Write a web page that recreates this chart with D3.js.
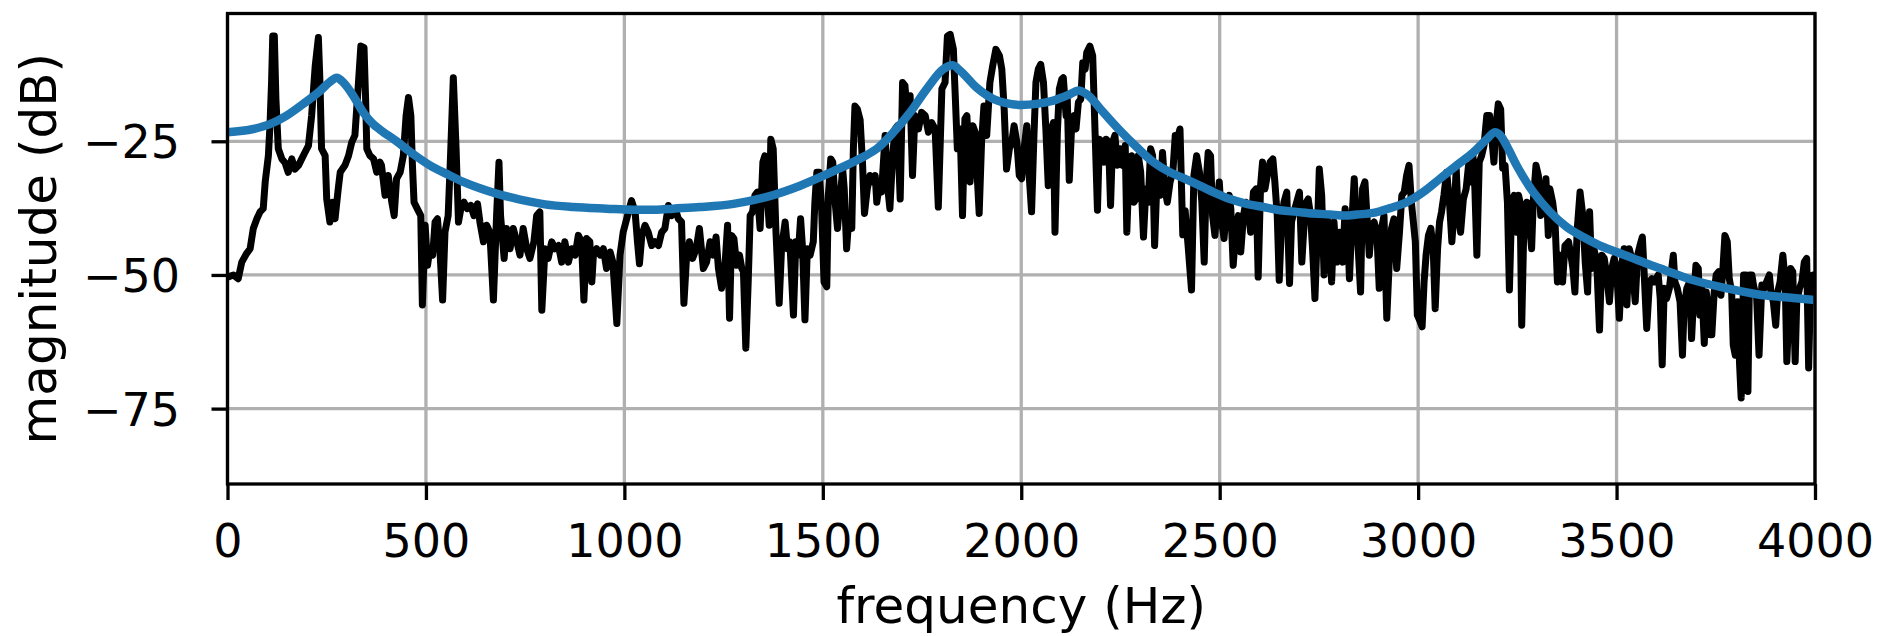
<!DOCTYPE html>
<html><head><meta charset="utf-8">
<script src="https://cdn.jsdelivr.net/npm/d3@7"></script>
<style>
html,body{margin:0;padding:0;background:#fff;}
svg{display:block;}
text{font-family:"DejaVu Sans",sans-serif;}
</style></head>
<body><svg id="chart" width="1885" height="636"></svg>
<script>
// ---- data ----
const xTicks = [0, 500, 1000, 1500, 2000, 2500, 3000, 3500, 4000];
const yTicks = [-25, -50, -75];
const xDomain = [0, 4000];
const yDomain = [-89.1, -1.1];
const xLabel = "frequency (Hz)";
const yLabel = "magnitude (dB)";

// measured spectrum: [frequency Hz, magnitude dB]
const spectrum = [[0,-50.4],[15,-50.0],[27,-50.7],[36,-47.6],[48,-46.0],[57,-45.1],[65,-41.3],[74,-39.5],[82,-38.2],[90,-37.6],[95,-32.6],[103,-27.7],[107,-22.1],[111,-14.0],[114,-5.3],[118,-5.3],[122,-17.1],[128,-26.4],[137,-28.3],[145,-29.0],[153,-30.8],[162,-28.3],[170,-30.2],[179,-29.5],[187,-28.3],[195,-27.1],[204,-25.8],[212,-20.2],[221,-10.9],[229,-5.6],[233,-14.0],[237,-26.4],[246,-27.7],[250,-35.8],[258,-40.1],[265,-36.4],[271,-39.5],[279,-33.9],[284,-30.8],[296,-29.5],[305,-27.7],[313,-25.2],[321,-23.9],[330,-14.0],[336,-7.2],[344,-7.5],[348,-17.1],[351,-26.4],[359,-27.7],[368,-28.3],[376,-30.8],
[384,-28.9],[388,-29.5],[397,-35.1],[405,-31.4],[414,-36.4],[420,-38.9],[426,-32.0],[435,-30.8],[443,-27.7],[450,-20.2],[456,-16.8],[462,-20.2],[466,-29.5],[470,-36.4],[478,-37.6],[487,-38.9],[491,-55.6],[498,-40.7],[504,-48.2],[510,-45.1],[517,-46.3],[523,-40.1],[529,-39.5],[535,-45.1],[542,-54.7],[548,-42.0],[556,-38.9],[562,-27.7],[569,-13.1],[576,-26.4],[582,-40.1],[588,-37.6],[596,-36.4],[604,-37.6],[613,-37.0],[621,-38.9],[630,-36.7],[636,-40.1],[645,-43.8],[653,-40.7],[661,-42.0],[670,-54.7],[678,-38.9],[684,-28.9],[688,-38.9],[697,-46.9],[703,-41.3],[712,-45.1],[720,-41.3],[729,-43.8],[737,-46.3],[745,-41.3],[754,-45.1],[762,-46.9],[772,-43.8],[779,-38.9],[787,-38.2],[792,-56.6],[800,-45.1],
[808,-46.9],[817,-43.8],[825,-45.1],[834,-44.5],[842,-47.6],[850,-43.8],[859,-47.6],[867,-45.1],[876,-46.3],[884,-42.6],[892,-43.8],[898,-54.7],[905,-43.2],[913,-43.8],[918,-51.3],[922,-46.3],[930,-45.1],[939,-46.3],[947,-45.1],[955,-48.8],[964,-45.7],[971,-47.6],[981,-59.1],[989,-46.3],[997,-42.0],[1008,-38.9],[1018,-36.1],[1027,-38.2],[1033,-43.8],[1038,-47.9],[1044,-42.6],[1052,-40.7],[1060,-42.0],[1069,-44.5],[1077,-43.8],[1086,-44.5],[1094,-42.0],[1102,-41.3],[1111,-37.0],[1119,-38.9],[1128,-37.6],[1136,-39.5],[1144,-40.1],[1150,-55.3],[1157,-46.3],[1164,-43.8],[1172,-46.9],[1181,-45.1],[1189,-41.3],
[1199,-48.8],[1207,-47.6],[1216,-43.8],[1224,-46.3],[1231,-42.9],[1237,-48.8],[1245,-52.5],[1254,-47.6],[1260,-40.7],[1265,-58.1],[1270,-42.6],[1276,-43.2],[1283,-48.2],[1290,-46.3],[1296,-48.8],[1300,-49.4],[1306,-63.7],[1312,-51.3],[1317,-38.9],[1323,-38.2],[1329,-35.1],[1335,-34.5],[1342,-41.3],[1349,-28.9],[1354,-27.7],[1359,-33.9],[1365,-40.7],[1369,-24.6],[1375,-26.4],[1382,-42.0],[1390,-55.3],[1396,-45.1],[1405,-40.1],[1411,-45.1],[1417,-43.8],[1426,-57.5],[1432,-43.8],[1438,-46.3],[1444,-39.5],[1449,-45.1],[1455,-58.4],[1461,-45.1],[1468,-46.3],[1476,-43.8],[1480,-36.4],[1485,-30.8],[1491,-30.8],[1497,-37.6],[1503,-51.3],[1510,-52.2],[1514,-35.1],[1520,-28.3],[1525,-28.9],[1531,-36.4],[1537,-41.3],[1543,-36.4],[1550,-30.2],[1554,-33.9],[1560,-45.1],[1566,-38.9],[1573,-41.3],[1577,-26.4],[1581,-18.4],[1587,-19.0],[1594,-21.0],[1600,-29.0],[1605,-38.5],
[1612,-33.9],[1619,-31.4],[1626,-32.6],[1632,-31.4],[1636,-36.4],[1642,-33.3],[1648,-34.5],[1657,-23.9],[1663,-33.3],[1669,-37.6],[1676,-27.7],[1682,-22.7],[1688,-22.1],[1695,-35.8],[1701,-14.0],[1707,-14.6],[1713,-20.2],[1720,-16.5],[1726,-31.4],[1732,-20.2],[1741,-22.7],[1749,-19.6],[1758,-20.2],[1766,-23.3],[1774,-21.5],[1783,-22.7],[1791,-37.3],[1800,-15.2],[1808,-14.0],[1814,-5.3],[1821,-5.0],[1829,-7.8],[1833,-15.2],[1839,-26.4],[1846,-22.7],[1852,-38.9],[1858,-20.8],[1863,-20.2],[1867,-26.4],[1871,-32.6],[1878,-22.1],[1884,-23.3],[1889,-31.4],[1894,-38.5],[1900,-25.2],[1906,-18.4],[1913,-23.9],[1921,-14.0],[1928,-10.9],[1936,-7.8],[1945,-9.0],[1951,-11.5],[1957,-19.0],[1963,-30.2],[1970,-26.4],[1976,-25.2],[1982,-22.1],[1989,-25.2],[1995,-31.4],
[2001,-32.0],[2007,-26.4],[2014,-22.1],[2020,-31.4],[2026,-38.2],[2032,-23.9],[2037,-14.0],[2043,-11.5],[2049,-10.6],[2056,-14.0],[2062,-22.7],[2068,-33.3],[2074,-23.3],[2081,-21.5],[2085,-42.0],[2091,-23.3],[2096,-15.2],[2102,-13.4],[2106,-13.1],[2113,-20.2],[2116,-17.1],[2121,-32.3],[2127,-22.1],[2133,-20.2],[2138,-22.7],[2144,-17.7],[2150,-17.1],[2155,-10.3],[2161,-11.5],[2165,-8.4],[2173,-7.2],[2180,-9.0],[2186,-23.3],[2192,-37.9],[2197,-24.6],[2203,-25.2],[2209,-28.9],[2214,-24.6],[2220,-25.2],[2225,-37.0],[2230,-25.2],[2236,-23.9],[2242,-29.5],[2249,-26.4],[2256,-29.5],[2262,-25.8],[2266,-42.0],[2272,-29.5],[2278,-27.7],[2284,-36.4],[2289,-35.8],[2295,-27.7],[2301,-30.8],[2308,-42.9],[2314,-33.9],[2320,-36.4],[2326,-26.4],[2331,-27.7],[2336,-44.5],[2343,-30.2],[2350,-35.1],[2356,-27.1],[2362,-33.9],[2368,-36.4],[2375,-32.6],[2382,-30.8],[2388,-23.9],[2393,-24.6],[2400,-22.7],[2407,-42.5],[2413,-38.0],
[2421,-45.1],[2429,-52.8],[2435,-31.4],[2442,-27.7],[2449,-30.8],[2455,-36.4],[2461,-47.6],[2466,-32.6],[2471,-27.1],[2477,-27.7],[2482,-38.9],[2488,-42.6],[2494,-36.4],[2499,-32.6],[2505,-40.1],[2511,-43.2],[2518,-36.4],[2524,-35.1],[2528,-37.6],[2534,-48.2],[2541,-41.3],[2547,-38.9],[2553,-45.7],[2560,-38.9],[2566,-36.4],[2572,-37.6],[2578,-42.0],[2585,-34.5],[2592,-33.9],[2597,-50.4],[2603,-33.3],[2608,-28.9],[2614,-33.9],[2620,-31.4],[2627,-28.9],[2634,-28.3],[2639,-32.6],[2645,-38.9],[2650,-51.0],[2656,-40.1],[2662,-36.4],[2669,-34.5],[2676,-51.6],[2681,-40.1],[2687,-38.2],[2694,-36.4],[2701,-34.5],[2707,-47.6],[2713,-40.1],[2718,-36.4],[2723,-35.8],[2729,-38.9],[2734,-45.1],[2740,-54.4],[2746,-42.0],[2751,-30.2],[2757,-35.1],[2763,-50.0],[2770,-38.9],[2776,-42.0],[2782,-51.3],[2788,-40.1],[2795,-47.6],[2802,-42.0],
[2810,-47.6],[2816,-37.6],[2822,-41.3],[2827,-50.7],[2833,-40.1],[2839,-32.0],[2844,-38.9],[2849,-45.1],[2855,-53.2],[2860,-33.9],[2866,-32.6],[2872,-40.1],[2877,-46.3],[2883,-40.7],[2889,-40.1],[2896,-42.0],[2902,-52.5],[2908,-41.3],[2914,-38.9],[2921,-58.1],[2928,-46.3],[2933,-41.3],[2939,-39.5],[2946,-48.8],[2953,-42.0],[2959,-35.1],[2965,-34.5],[2971,-31.4],[2977,-29.5],[2983,-36.4],[2988,-40.1],[2993,-43.8],[2998,-57.5],[3005,-58.7],[3010,-59.7],[3015,-51.3],[3020,-46.3],[3026,-42.6],[3032,-41.3],[3038,-45.1],[3043,-56.3],[3049,-45.1],[3054,-40.1],[3059,-38.2],[3065,-35.1],[3072,-30.8],[3079,-36.4],[3085,-43.8],[3091,-37.6],[3096,-30.2],[3101,-38.9],[3107,-42.0],[3114,-35.8],[3121,-33.9],[3127,-29.5],[3133,-32.6],[3138,-27.7],[3143,-33.9],[3148,-46.3],[3154,-28.9],[3160,-27.7],[3166,-25.8],[3173,-20.2],[3180,-20.2],[3185,-23.9],[3191,-28.9],[3196,-22.1],[3202,-18.0],[3208,-19.0],[3213,-30.0],[3219,-29.5],[3225,-36.4],[3230,-52.8],[3236,-36.4],[3242,-35.1],[3247,-42.0],[3253,-35.1],[3257,-36.4],[3261,-59.4],[3267,-38.9],[3274,-36.4],[3280,-40.1],[3286,-45.1],[3290,-36.4],[3297,-29.5],[3303,-31.4],[3309,-38.9],[3316,-36.4],[3322,-32.0],[3328,-42.6],[3332,-33.9],[3339,-36.4],[3345,-40.1],[3351,-51.3],[3358,-46.3],[3364,-51.3],[3370,-44.5],[3379,-43.8],[3385,-46.3],[3390,-48.8],[3395,-53.2],[3401,-41.3],[3408,-34.5],[3415,-38.9],[3421,-47.6],[3427,-53.2],[3432,-38.2],[3437,-48.8],[3443,-45.1],[3450,-47.6],[3457,-60.3],[3463,-46.3],[3469,-46.9],[3475,-50.0],[3482,-55.0],[3488,-48.8],[3494,-46.9],[3500,-48.8],[3507,-58.1],[3513,-48.2],[3519,-45.1],[3526,-55.6],[3532,-45.1],[3538,-46.9],[3547,-55.0],[3553,-46.3],[3559,-44.5],[3565,-42.9],[3569,-48.8],[3576,-60.0],[3583,-51.3],[3589,-50.7],[3595,-51.3],[3600,-50.7],[3605,-50.0],[3610,-54.4],[3615,-66.8],[3620,-52.5],[3626,-54.4],[3633,-52.5],[3639,-48.8],[3643,-46.3],[3647,-51.3],[3653,-52.5],[3660,-55.0],[3666,-65.0],[3670,-56.3],[3677,-52.5],[3684,-51.3],[3689,-61.9],[3694,-54.4],[3700,-48.2],[3706,-48.8],[3710,-57.5],[3715,-52.5],[3721,-62.8],[3726,-53.2],[3731,-56.3],[3736,-61.2],[3740,-61.2],[3746,-53.2],[3751,-50.0],[3757,-49.4],[3763,-53.8],[3768,-48.8],[3773,-42.6],[3779,-43.8],[3784,-50.7],[3790,-53.2],[3794,-63.1],[3799,-65.0],[3805,-55.0],[3810,-66.8],[3814,-73.0],[3820,-50.0],[3826,-50.0],[3831,-71.8],[3835,-50.0],[3841,-50.0],[3845,-51.9],[3853,-54.4],[3859,-65.0],[3866,-51.9],[3872,-52.5],[3878,-51.3],[3885,-50.0],[3889,-53.2],[3895,-55.0],[3901,-59.4],[3906,-53.2],[3912,-51.3],[3919,-46.3],[3925,-51.3],[3929,-66.2],[3934,-57.5],[3939,-48.8],[3944,-49.4],[3950,-66.2],[3954,-55.0],[3961,-52.5],[3967,-51.3],[3973,-47.6],[3979,-46.9],[3984,-67.4],[3989,-51.3],[3994,-50.0],[4000,-50.0],[4008,-56.0]];

// smooth spectral envelope: [frequency Hz, magnitude dB]
const envelope = [[0,-23.3],[65,-22.7],[107,-21.8],[149,-20.2],[191,-18.0],[233,-15.6],[258,-13.9],[275,-13.1],[292,-14.0],[317,-16.5],[342,-19.6],[367,-21.8],[384,-22.8],[426,-25.0],[468,-27.4],[510,-29.5],[552,-31.1],[594,-32.6],[636,-33.8],[678,-34.8],[720,-35.6],[762,-36.3],[800,-36.8],[871,-37.3],[955,-37.6],[1023,-37.8],[1081,-37.8],[1123,-37.6],[1190,-37.3],[1275,-36.7],[1359,-35.4],[1443,-33.3],[1527,-30.6],[1600,-28.0],[1636,-26.4],[1678,-23.3],[1720,-19.6],[1762,-15.2],[1804,-11.5],[1827,-10.8],[1846,-11.8],[1888,-15.0],[1930,-17.1],[1972,-18.0],[2000,-18.2],[2039,-18.0],[2081,-17.4],[2123,-16.2],[2144,-15.5],[2165,-16.2],[2207,-19.6],[2249,-23.0],[2291,-26.1],[2333,-28.9],[2375,-30.8],[2400,-31.6],[2442,-33.0],[2484,-34.5],[2526,-35.8],[2568,-36.7],[2610,-37.3],[2652,-37.9],[2694,-38.2],[2736,-38.5],[2778,-38.7],[2816,-38.9],[2845,-38.7],[2887,-38.4],[2929,-37.5],[2971,-36.4],[3013,-34.5],[3055,-32.0],[3097,-29.5],[3139,-27.1],[3173,-24.6],[3194,-23.3],[3206,-23.8],[3227,-26.4],[3248,-29.5],[3290,-34.5],[3332,-38.2],[3374,-41.0],[3416,-42.9],[3458,-44.5],[3500,-45.7],[3542,-46.9],[3584,-48.1],[3622,-49.1],[3694,-51.0],[3778,-52.5],[3861,-53.7],[3946,-54.3],[4000,-54.7]];

// ---- layout ----
const plot = {left: 227.5, right: 1815, top: 13.5, bottom: 484};
const tickFont = 46, labelFont = 50, lw = 3.3, tickLen = 16;

const svg = d3.select("#chart");
const x = d3.scaleLinear().domain(xDomain).range([plot.left, plot.right]);
const y = d3.scaleLinear().domain(yDomain).range([plot.bottom, plot.top]);

svg.append("defs").append("clipPath").attr("id", "clip")
  .append("rect").attr("x", plot.left).attr("y", plot.top)
  .attr("width", plot.right - plot.left).attr("height", plot.bottom - plot.top);

// grid
const grid = svg.append("g").attr("stroke", "#b0b0b0").attr("stroke-width", lw);
grid.selectAll("line.vx").data(xTicks).join("line").attr("class", "vx")
  .attr("x1", d => x(d)).attr("x2", d => x(d)).attr("y1", plot.top).attr("y2", plot.bottom);
grid.selectAll("line.hy").data(yTicks).join("line").attr("class", "hy")
  .attr("y1", d => y(d)).attr("y2", d => y(d)).attr("x1", plot.left).attr("x2", plot.right);

// lines
const lines = svg.append("g").attr("clip-path", "url(#clip)");
lines.append("path").datum(spectrum)
  .attr("d", d3.line().x(d => x(d[0])).y(d => y(d[1])))
  .attr("fill", "none").attr("stroke", "#000").attr("stroke-width", 7)
  .attr("stroke-linejoin", "round").attr("stroke-linecap", "butt");
lines.append("path").datum(envelope)
  .attr("d", d3.line().x(d => x(d[0])).y(d => y(d[1])).curve(d3.curveMonotoneX))
  .attr("fill", "none").attr("stroke", "#1f77b4").attr("stroke-width", 8.5)
  .attr("stroke-linejoin", "round");

// axes
const xAxis = svg.append("g").attr("transform", `translate(0,${plot.bottom})`)
  .call(d3.axisBottom(x).tickValues(xTicks).tickSize(tickLen).tickFormat(d3.format("d")));
xAxis.select(".domain").remove();
xAxis.selectAll(".tick line").attr("stroke", "#000").attr("stroke-width", lw);
xAxis.selectAll(".tick text").attr("y", 73).attr("dy", null)
  .attr("font-size", tickFont).attr("fill", "#000").attr("font-family", "DejaVu Sans");

const yAxis = svg.append("g").attr("transform", `translate(${plot.left},0)`)
  .call(d3.axisLeft(y).tickValues(yTicks).tickSize(tickLen).tickFormat(d3.format("d")));
yAxis.select(".domain").remove();
yAxis.selectAll(".tick line").attr("stroke", "#000").attr("stroke-width", lw);
yAxis.selectAll(".tick text").attr("x", -(plot.left - 180)).attr("dy", "0.36em")
  .attr("font-size", tickFont).attr("fill", "#000").attr("font-family", "DejaVu Sans");

// spines
svg.append("rect").attr("x", plot.left).attr("y", plot.top)
  .attr("width", plot.right - plot.left).attr("height", plot.bottom - plot.top)
  .attr("fill", "none").attr("stroke", "#000").attr("stroke-width", lw);

// axis labels
svg.append("text").attr("x", (plot.left + plot.right) / 2).attr("y", 623)
  .attr("text-anchor", "middle").attr("font-size", labelFont).attr("fill", "#000")
  .text(xLabel);
svg.append("text").attr("transform", `translate(56,${(plot.top + plot.bottom) / 2}) rotate(-90)`)
  .attr("text-anchor", "middle").attr("font-size", labelFont).attr("fill", "#000")
  .text(yLabel);
</script>
</body></html>
